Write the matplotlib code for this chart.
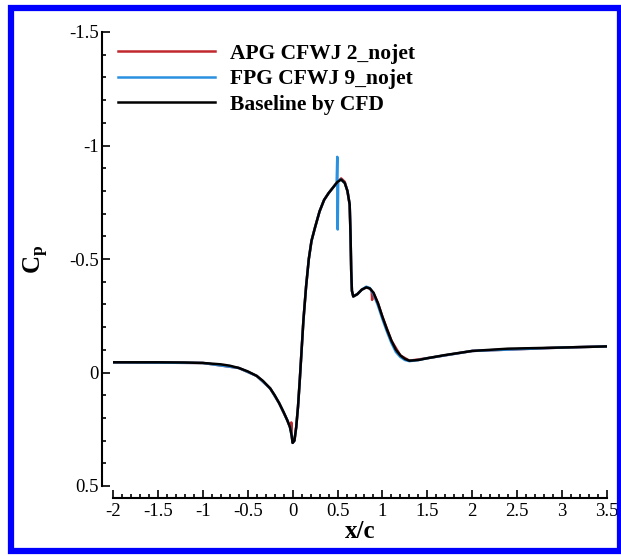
import numpy as np
import matplotlib
matplotlib.use('Agg')
import matplotlib.pyplot as plt
from matplotlib.ticker import MultipleLocator
from matplotlib.patches import Rectangle

plt.rcParams['font.family'] = ['Liberation Serif', 'DejaVu Serif']
plt.rcParams['mathtext.fontset'] = 'custom'
plt.rcParams['mathtext.rm'] = 'Liberation Serif'
plt.rcParams['mathtext.bf'] = 'Liberation Serif:bold'

# ---------------- data ----------------
x_base = [-2.0, -1.5, -1.2, -1.0, -0.8, -0.7, -0.6, -0.5, -0.4, -0.33, -0.25, -0.2,
          -0.15, -0.1, -0.06, -0.03, -0.01, 0.0, 0.02, 0.04, 0.06, 0.08, 0.1, 0.12,
          0.15, 0.18, 0.21, 0.25, 0.3, 0.35, 0.4, 0.45, 0.5, 0.54, 0.58, 0.61,
          0.635, 0.645, 0.652, 0.66, 0.675, 0.72, 0.77, 0.82, 0.86, 0.9, 0.95, 1.0,
          1.05, 1.1, 1.15, 1.2, 1.25, 1.3, 1.4, 1.5, 1.7, 2.0, 2.4, 3.0, 3.5]
cp_base = [-0.045, -0.045, -0.044, -0.042, -0.036, -0.03, -0.02, -0.005, 0.015, 0.037, 0.07, 0.1,
           0.135, 0.175, 0.21, 0.24, 0.28, 0.31, 0.3, 0.24, 0.15, 0.03, -0.1, -0.23,
           -0.38, -0.5, -0.58, -0.64, -0.71, -0.76, -0.79, -0.815, -0.84, -0.85, -0.835, -0.8,
           -0.74, -0.6, -0.45, -0.36, -0.335, -0.345, -0.365, -0.375, -0.37, -0.352, -0.305, -0.245,
           -0.19, -0.14, -0.1, -0.075, -0.06, -0.052, -0.055, -0.063, -0.077, -0.095, -0.105, -0.11, -0.115]

x_apg = [-2.0, -1.0, -0.6, -0.4, -0.25, -0.15, -0.06, -0.03, -0.02, -0.015, -0.01, 0.0,
         0.02, 0.04, 0.06, 0.08, 0.1, 0.12, 0.15, 0.18, 0.21, 0.25, 0.3, 0.35, 0.4,
         0.45, 0.5, 0.54, 0.58, 0.61, 0.635, 0.645, 0.652, 0.66, 0.675, 0.72, 0.77,
         0.82, 0.86, 0.88, 0.885, 0.89, 0.9, 0.95, 1.0, 1.1, 1.2, 1.3, 1.5, 2.0, 3.0, 3.5]
cp_apg = [-0.045, -0.042, -0.02, 0.015, 0.07, 0.135, 0.21, 0.24, 0.255, 0.22, 0.28, 0.31,
          0.3, 0.24, 0.15, 0.03, -0.1, -0.23, -0.38, -0.5, -0.58, -0.64, -0.71, -0.76, -0.79,
          -0.815, -0.84, -0.855, -0.84, -0.8, -0.74, -0.6, -0.45, -0.36, -0.335, -0.345, -0.365,
          -0.375, -0.37, -0.36, -0.32, -0.35, -0.35, -0.305, -0.245, -0.14, -0.075, -0.052, -0.063, -0.095, -0.11, -0.115]

x_fpg = [-2.0, -1.0, -0.6, -0.4, -0.25, -0.15, -0.06, -0.03, -0.01, 0.0, 0.02, 0.04,
         0.06, 0.08, 0.1, 0.12, 0.15, 0.18, 0.21, 0.25, 0.3, 0.35, 0.4, 0.45, 0.49,
         0.497, 0.502, 0.507, 0.512, 0.54, 0.58, 0.61, 0.635, 0.645, 0.652, 0.66, 0.675,
         0.72, 0.77, 0.82, 0.86, 0.9, 0.95, 1.0, 1.05, 1.1, 1.15, 1.2, 1.25, 1.3, 1.4,
         1.5, 2.0, 3.0, 3.5]
cp_fpg = [-0.045, -0.042, -0.02, 0.015, 0.07, 0.135, 0.21, 0.24, 0.28, 0.31, 0.3, 0.24,
          0.15, 0.03, -0.1, -0.23, -0.38, -0.5, -0.58, -0.64, -0.71, -0.76, -0.79, -0.815, -0.835,
          -0.95, -0.63, -0.84, -0.845, -0.85, -0.835, -0.8, -0.74, -0.6, -0.45, -0.36, -0.335,
          -0.345, -0.365, -0.378, -0.372, -0.345, -0.295, -0.235, -0.18, -0.13, -0.09, -0.068, -0.055, -0.05, -0.055,
          -0.063, -0.095, -0.11, -0.115]

labels = ['APG CFWJ 2_nojet', 'FPG CFWJ 9_nojet', 'Baseline by CFD']
colors = ['#c0282d', '#2a90e0', 'black']

# ---------------- figure ----------------
fig = plt.figure(figsize=(6.21, 5.56), dpi=100)
ax = fig.add_axes([113/621, 1-486/556, 494/621, 454/556])

ax.plot(x_apg, cp_apg, color=colors[0], lw=1.8, label=labels[0])
ax.plot(x_fpg, cp_fpg, color=colors[1], lw=1.8, label=labels[1])
ax.plot(x_base, cp_base, color=colors[2], lw=1.8, label=labels[2])

ax.set_xlim(-2, 3.5)
ax.set_ylim(0.5, -1.5)
ax.xaxis.set_minor_locator(MultipleLocator(0.1))
ax.yaxis.set_minor_locator(MultipleLocator(0.1))
ax.set_xticks(np.arange(-2, 3.51, 0.5))
ax.set_xticklabels(['-2', '-1.5', '-1', '-0.5', '0', '0.5', '1', '1.5', '2', '2.5', '3', '3.5'])
ax.set_yticks(np.arange(-1.5, 0.51, 0.5))
ax.set_yticklabels(['-1.5', '-1', '-0.5', '0', '0.5'])

ax.spines['top'].set_visible(False)
ax.spines['right'].set_visible(False)
ax.spines['left'].set_position(('outward', 8))
ax.spines['bottom'].set_position(('outward', 8.5))
ax.spines['left'].set_linewidth(1.5)
ax.spines['bottom'].set_linewidth(1.5)
ax.tick_params(which='both', direction='in', width=1.2, labelsize=13.5)
ax.tick_params(which='major', length=6)
ax.tick_params(which='minor', length=3)
ax.tick_params(axis='y', pad=2)
ax.tick_params(axis='x', pad=4)

ax.set_xlabel('x/c', fontsize=18, fontweight='bold')
ax.xaxis.set_label_coords(0.5, -0.075)
ax.set_ylabel(r'$\mathbf{C_p}$', fontsize=18)
ax.yaxis.set_label_coords(-0.125, 0.5)

ax.legend(loc='upper left', bbox_to_anchor=(0.01, 0.974), frameon=False,
          prop={'family': 'Liberation Serif', 'weight': 'bold', 'size': 15.5},
          handlelength=4.5, handletextpad=0.7, labelspacing=0.25,
          borderpad=0, borderaxespad=0)

fig.patches.append(Rectangle((10.5/621, 1-551/556), 609.5/621, 543/556,
                             transform=fig.transFigure, fill=False,
                             edgecolor='#0000ff', lw=4.5))

plt.savefig('out.png', dpi=100)
